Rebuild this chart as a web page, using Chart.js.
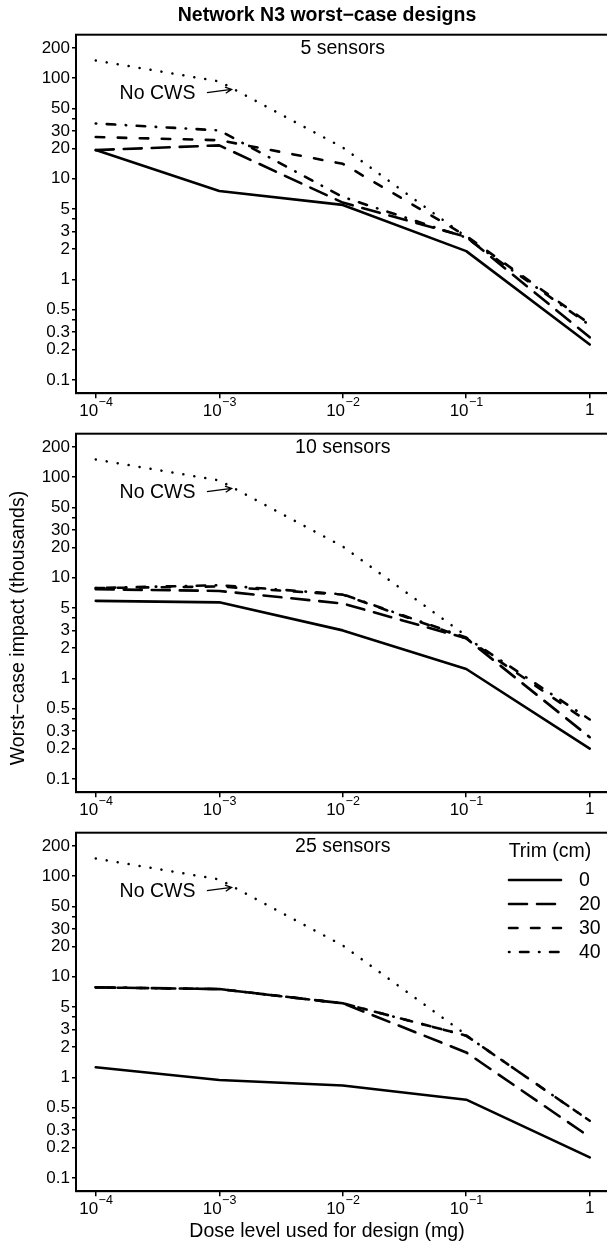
<!DOCTYPE html>
<html>
<head>
<meta charset="utf-8">
<title>Network N3 worst-case designs</title>
<script src="https://cdn.jsdelivr.net/npm/chart.js@4.4.0/dist/chart.umd.min.js"></script>
<style>
  html, body { margin: 0; padding: 0; background: #fff; overflow: hidden; }
  .panel { position: absolute; left: 0; width: 620px; }
  #p1 { top: 0; height: 430px; }
  #p2 { top: 399px; height: 430px; }
  #p3 { top: 798px; height: 455px; }
</style>
</head>
<body>
<div class="panel" id="p1"><canvas id="c1"></canvas></div>
<div class="panel" id="p2"><canvas id="c2"></canvas></div>
<div class="panel" id="p3"><canvas id="c3"></canvas></div>
<script>
/* ---------- Data ---------- */
const doses = [1e-4, 1e-3, 1e-2, 1e-1, 1];
const trimLevels = ['0', '20', '30', '40'];
const panelLabels = ['5 sensors', '10 sensors', '25 sensors'];

// No CWS (dotted) — same in every panel, ends at 10^-1
const noCws = [150, 93, 20.5, 2.65];

// 5 sensors
const s5Trim0  = [19.3, 7.55, 5.5, 1.91, 0.225];
const s5Trim20 = [19.3, 21.5, 5.8, 2.65, 0.265];
const s5Trim30 = [26, 24.2, 14.1, 2.7, 0.36];
const s5Trim40 = [35.5, 30.3, 6.6, 2.6, 0.35];

// 10 sensors
const s10Trim0  = [5.9, 5.7, 3.0, 1.24, 0.2];
const s10Trim20 = [7.7, 7.4, 5.55, 2.5, 0.26];
const s10Trim30 = [7.9, 8.2, 6.8, 2.5, 0.36];
const s10Trim40 = [7.9, 8.45, 6.85, 2.55, 0.39];

// 25 sensors
const s25Trim0  = [1.26, 0.94, 0.83, 0.6, 0.16];
const s25Trim20 = [7.85, 7.55, 5.45, 1.77, 0.255];
const s25Trim30 = [7.85, 7.55, 5.45, 2.6, 0.37];
const s25Trim40 = [7.85, 7.55, 5.45, 2.6, 0.37];

// Axis ticks
const xTickValues = [1e-4, 1e-3, 1e-2, 1e-1, 1];
const xTickExponents = ['\u22124', '\u22123', '\u22122', '\u22121', null];
const yTickValues = [0.1, 0.2, 0.3, 0.4, 0.5, 1, 2, 3, 4, 5, 10, 20, 30, 40, 50, 100, 200];
const yTickLabels = ['0.1', '0.2', '0.3', '', '0.5', '1', '2', '3', '', '5', '10', '20', '30', '', '50', '100', '200'];

/* ---------- Styles ---------- */
const FONT = '"Liberation Sans", Arial, Helvetica, sans-serif';
const LW = 2.6;
const lineDashes = [[], [18, 10], [8.5, 13.5], [0.5, 10.5, 8.5, 10.5]];
const dottedDash = [0.1, 11];
const AREA = { left: 76, top: 34.7, right: 609.5, bottom: 393.2 };

function series(vals, dash, label, width) {
  return {
    label: label,
    data: vals.map((v, j) => ({ x: doses[j], y: v })),
    showLine: true,
    borderColor: '#000',
    borderWidth: width,
    borderDash: dash,
    borderCapStyle: 'round',
    borderJoinStyle: 'round',
    pointRadius: 0,
    pointHoverRadius: 0,
    fill: false,
    tension: 0
  };
}

function arrow(ctx, x0, y0, x1, y1) {
  const a = Math.atan2(y1 - y0, x1 - x0), len = 7, sp = Math.PI / 7;
  ctx.beginPath();
  ctx.moveTo(x0, y0); ctx.lineTo(x1, y1);
  ctx.moveTo(x1 - len * Math.cos(a - sp), y1 - len * Math.sin(a - sp));
  ctx.lineTo(x1, y1);
  ctx.lineTo(x1 - len * Math.cos(a + sp), y1 - len * Math.sin(a + sp));
  ctx.stroke();
}

function makePanel(canvasId, idx, trims, height) {
  const datasets = trims.map((vals, i) => series(vals, lineDashes[i], 'Trim ' + trimLevels[i], LW));
  datasets.push(series(noCws, dottedDash, 'No CWS', 2.5));

  const decor = {
    id: 'decor' + idx,
    afterDraw(chart) {
      const ctx = chart.ctx, xs = chart.scales.x, ys = chart.scales.y, ca = chart.chartArea;
      ctx.save();
      ctx.strokeStyle = '#000';
      ctx.fillStyle = '#000';

      // box
      ctx.lineWidth = 2;
      ctx.strokeRect(ca.left, ca.top, ca.right - ca.left, ca.bottom - ca.top);

      // x tick labels with superscripts
      ctx.textBaseline = 'middle';
      xTickValues.forEach((v, i) => {
        const px = xs.getPixelForValue(v);
        const exp = xTickExponents[i];
        if (exp === null) {
          ctx.font = '17px ' + FONT; ctx.textAlign = 'center';
          ctx.fillText('1', px, 410);
        } else {
          ctx.font = '17px ' + FONT;
          const wb = ctx.measureText('10').width;
          ctx.font = '12.5px ' + FONT;
          const we = ctx.measureText(exp).width;
          const x0 = px - (wb + we) / 2;
          ctx.textAlign = 'left';
          ctx.font = '17px ' + FONT;
          ctx.fillText('10', x0, 411);
          ctx.font = '12.5px ' + FONT;
          ctx.fillText(exp, x0 + wb + 0.5, 403);
        }
      });

      // panel label
      ctx.font = '19.5px ' + FONT; ctx.textAlign = 'center';
      ctx.fillText(panelLabels[idx], xs.getPixelForValue(1e-2), ys.getPixelForValue(200) + 1);

      // No CWS annotation
      ctx.fillText('No CWS', xs.getPixelForValue(Math.pow(10, -3.5)), ys.getPixelForValue(70));
      ctx.lineWidth = 1.3;
      arrow(ctx, xs.getPixelForValue(Math.pow(10, -3.1)), ys.getPixelForValue(72),
                 xs.getPixelForValue(Math.pow(10, -2.9)), ys.getPixelForValue(77.5));

      if (idx === 0) {
        ctx.font = 'bold 19.5px ' + FONT; ctx.textAlign = 'center';
        ctx.fillText('Network N3 worst\u2212case designs', 327, 16);
      }
      if (idx === 1) {
        ctx.save();
        ctx.translate(19, 229); ctx.rotate(-Math.PI / 2);
        ctx.font = '19.5px ' + FONT; ctx.textAlign = 'center';
        ctx.fillText('Worst\u2212case impact (thousands)', 0, 0);
        ctx.restore();
      }
      if (idx === 2) {
        ctx.font = '19.5px ' + FONT; ctx.textAlign = 'center';
        ctx.fillText('Dose level used for design (mg)', 327, 434);
        // legend
        ctx.fillText('Trim (cm)', 550, 54);
        ctx.textAlign = 'left';
        trimLevels.forEach((t, i) => {
          const y = 82 + i * 24;
          ctx.lineWidth = LW; ctx.lineCap = 'round';
          ctx.setLineDash(lineDashes[i]);
          ctx.beginPath(); ctx.moveTo(509, y); ctx.lineTo(561, y); ctx.stroke();
          ctx.setLineDash([]);
          ctx.fillText(t, 579, y + 1);
        });
      }
      ctx.restore();
    }
  };

  return new Chart(document.getElementById(canvasId), {
    type: 'scatter',
    data: { datasets: datasets },
    options: {
      responsive: true, maintainAspectRatio: false, animation: false,
      layout: { padding: { left: 0, top: AREA.top, right: 620 - AREA.right, bottom: 0 } },
      plugins: { legend: { display: false }, tooltip: { enabled: false }, title: { display: false } },
      scales: {
        x: {
          type: 'logarithmic',
          min: Math.pow(10, -4.16), max: Math.pow(10, 0.16),
          afterBuildTicks: s => { s.ticks = xTickValues.map(v => ({ value: v })); },
          afterFit: s => { s.height = height - AREA.bottom; },
          ticks: { callback: () => '', autoSkip: false, maxRotation: 0, padding: 0 },
          grid: { drawOnChartArea: false, drawTicks: true, tickLength: 5, color: '#000', lineWidth: 1.5 },
          border: { display: true, color: '#000', width: 2 }
        },
        y: {
          type: 'logarithmic',
          min: Math.pow(10, -1.132), max: Math.pow(10, 2.433),
          afterBuildTicks: s => { s.ticks = yTickValues.map(v => ({ value: v })); },
          afterFit: s => { s.width = AREA.left; },
          ticks: {
            callback: (v, i) => yTickLabels[i],
            autoSkip: false, padding: 2, color: '#000',
            font: { family: FONT, size: 17 }
          },
          grid: { drawOnChartArea: false, drawTicks: true, tickLength: 4, color: '#000', lineWidth: 1.5 },
          border: { display: true, color: '#000', width: 2 }
        }
      }
    },
    plugins: [decor]
  });
}

makePanel('c1', 0, [s5Trim0, s5Trim20, s5Trim30, s5Trim40], 430);
makePanel('c2', 1, [s10Trim0, s10Trim20, s10Trim30, s10Trim40], 430);
makePanel('c3', 2, [s25Trim0, s25Trim20, s25Trim30, s25Trim40], 455);
</script>
</body>
</html>
